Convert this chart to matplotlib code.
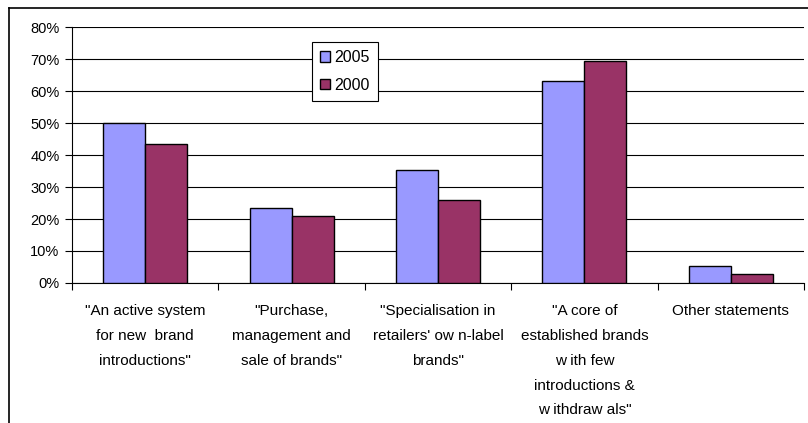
import numpy as np
import matplotlib.pyplot as plt
from matplotlib.lines import Line2D

plt.rcParams['font.family'] = ['Liberation Sans', 'DejaVu Sans']

# Data
categories = [
    '"An active system\nfor new  brand\nintroductions"',
    '"Purchase,\nmanagement and\nsale of brands"',
    '"Specialisation in\nretailers\' ow n-label\nbrands"',
    '"A core of\nestablished brands\nw ith few\nintroductions &\nw ithdraw als"',
    'Other statements',
]
values_2005 = [50.0, 23.3, 35.4, 63.1, 5.4]
values_2000 = [43.3, 20.8, 26.0, 69.5, 2.7]
series_names = ['2005', '2000']
colors = ['#9999FF', '#993366']

fig = plt.figure(figsize=(8.08, 4.23), dpi=100)
ax = fig.add_axes([72 / 808, 1 - 283 / 423, 732 / 808, 256 / 423])

x = np.arange(len(categories))
w = 0.287
ax.bar(x - w / 2, values_2005, w, color=colors[0], edgecolor='black', linewidth=1, label=series_names[0], zorder=3)
ax.bar(x + w / 2, values_2000, w, color=colors[1], edgecolor='black', linewidth=1, label=series_names[1], zorder=3)

ax.set_xlim(-0.5, len(categories) - 0.5)
ax.set_ylim(0, 80)
ax.set_yticks(range(0, 81, 10))
ax.set_yticklabels([f'{v}%' for v in range(0, 81, 10)], fontsize=10.5)
ax.yaxis.grid(True, color='black', linewidth=0.8, zorder=0)
ax.tick_params(axis='y', direction='out', length=5, width=0.8, pad=4)

ax.set_xticks(x)
ax.set_xticklabels(categories, fontsize=11, linespacing=1.99, va='top')
ax.tick_params(axis='x', which='major', length=0, pad=15)
ax.set_xticks(np.arange(-0.5, len(categories)), minor=True)
ax.tick_params(axis='x', which='minor', direction='out', length=5, width=0.8)

for side in ['top', 'right']:
    ax.spines[side].set_visible(False)
for side in ['left', 'bottom']:
    ax.spines[side].set_linewidth(0.8)

leg = ax.legend(loc='upper left', bbox_to_anchor=(312 / 808, 1 - 42 / 423),
                bbox_transform=fig.transFigure, fontsize=11.5, fancybox=False,
                edgecolor='black', framealpha=1, handlelength=0.65, handleheight=0.65,
                handletextpad=0.25, borderpad=0.5, labelspacing=0.8, borderaxespad=0)
leg.get_frame().set_linewidth(0.8)

# outer chart frame (top and left edges visible)
fig.add_artist(Line2D([9 / 808, 1], [1 - 8 / 423, 1 - 8 / 423], color='black', linewidth=1.2, transform=fig.transFigure))
fig.add_artist(Line2D([9 / 808, 9 / 808], [0, 1 - 8 / 423], color='black', linewidth=1.2, transform=fig.transFigure))

fig.savefig('out.png', dpi=100)
